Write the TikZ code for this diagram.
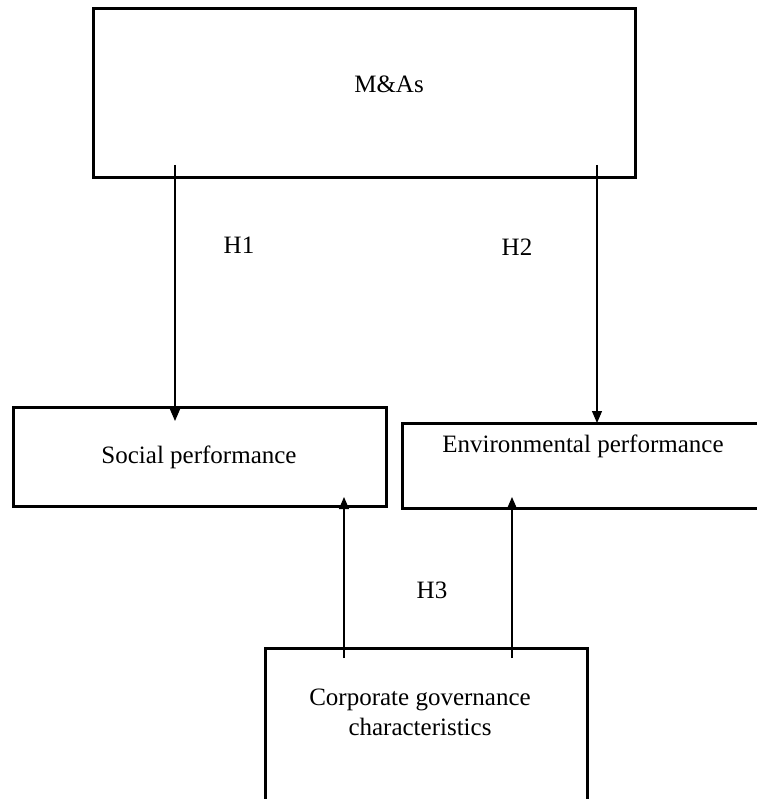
\documentclass[tikz,border=0pt]{standalone}
\usepackage{fontspec}
\setmainfont{Liberation Serif}
\usetikzlibrary{arrows.meta}
\begin{document}
\begin{tikzpicture}[x=1pt,y=-1pt,
  box/.style={draw=black,line width=2.6pt,rectangle,inner sep=0pt,anchor=north west},
  lbl/.style={font=\fontsize{25}{30}\selectfont,inner sep=0pt,align=center},
  arr/.style={line width=1.2pt,-{Triangle[width=10pt,length=12pt]}}]
\useasboundingbox (0,0) rectangle (756,799);
% boxes
\node[box,minimum width=542pt,minimum height=169pt] (ma) at (92,7) {};
\node[box,minimum width=373pt,minimum height=99pt] (sp) at (12,406) {};
\node[box,minimum width=380pt,minimum height=85pt] (ep) at (401,422) {};
\node[box,minimum width=322pt,minimum height=200pt] (cg) at (264,647) {};
% texts
\node[lbl] (tma) at (389,84) {M\&As};
\node[lbl] (tsp) at (199,457) {Social performance};
\node[lbl] (tep) at (583,446) {Environmental performance};
\node[lbl] (tcg) at (420,712) {Corporate governance\\characteristics};
\node[lbl] (h1) at (239,245) {H1};
\node[lbl] (h2) at (517,247) {H2};
\node[lbl] (h3) at (432,590) {H3};
% connector end points
\coordinate (a1s) at (175,165);
\coordinate (a1e) at (175,421);
\coordinate (a2s) at (597,165);
\coordinate (a2e) at (597,423);
\coordinate (a3s) at (344,658);
\coordinate (a3e) at (344,497);
\coordinate (a4s) at (512,658);
\coordinate (a4e) at (512,497);
\draw[arr] (a1s) -- (a1e);
\draw[arr] (a2s) -- (a2e);
\draw[arr] (a3s) -- (a3e);
\draw[arr] (a4s) -- (a4e);
\end{tikzpicture}
\end{document}
